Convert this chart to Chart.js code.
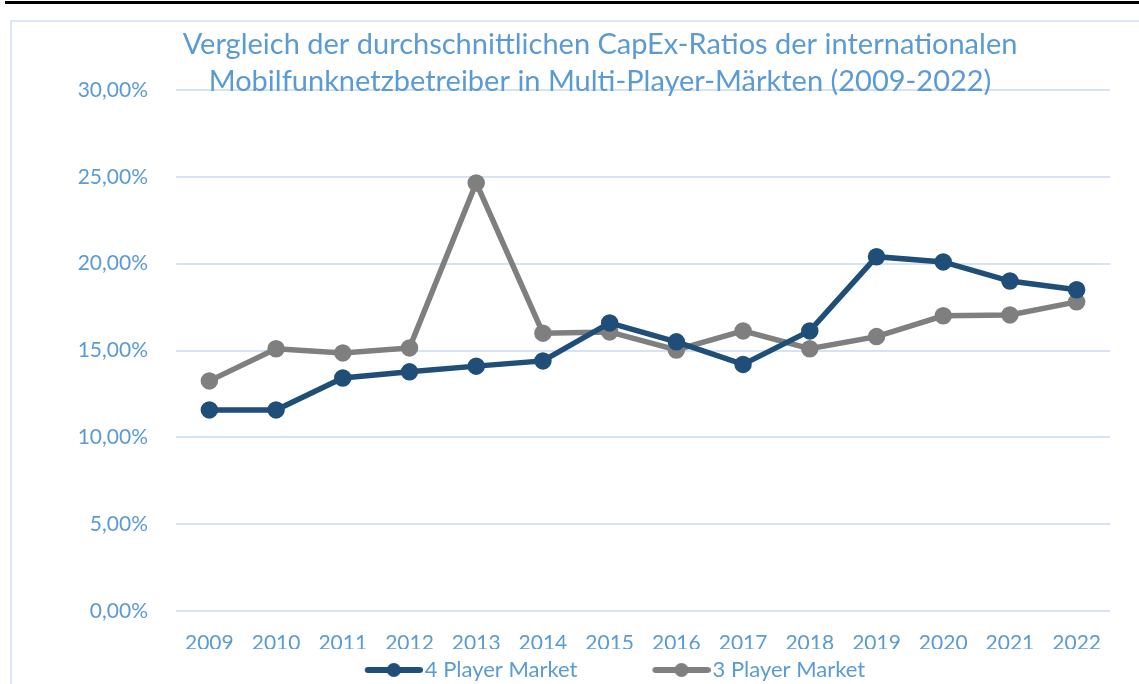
<!DOCTYPE html>
<html>
<head>
<meta charset="utf-8">
<script src="https://cdn.jsdelivr.net/npm/chart.js@4.4.0/dist/chart.umd.min.js"></script>
<style>
    html, body { margin: 0; padding: 0; background: #fff; overflow: hidden; width: 1139px; height: 684px; }
    #topRule { position: absolute; left: 5px; right: 0; top: 1px; height: 3px; background: #000; }
    #frame { position: absolute; left: 10px; top: 20px; width: 1300px; height: 700px; border: 2px solid #dce7f5; }
    #wrap { position: absolute; left: 10px; top: 20px; width: 1160px; height: 671px; }
</style>
</head>
<body>
<div id="topRule"></div>
<div id="frame"></div>
<div id="wrap"><canvas id="capexChart"></canvas></div>
<script>
const years = ['2009', '2010', '2011', '2012', '2013', '2014', '2015', '2016', '2017', '2018', '2019', '2020', '2021', '2022'];
const fourPlayer = [11.58, 11.58, 13.42, 13.77, 14.10, 14.40, 16.59, 15.50, 14.20, 16.13, 20.40, 20.10, 19.00, 18.50];
const threePlayer = [13.25, 15.10, 14.86, 15.15, 24.65, 16.00, 16.07, 15.03, 16.13, 15.10, 15.80, 17.00, 17.05, 17.80];
const seriesNames = ['4 Player Market', '3 Player Market'];
const titleLines = [
    'Vergleich der durchschnittlichen CapEx-Ratios der internationalen',
    'Mobilfunknetzbetreiber in Multi-Player-Märkten (2009-2022)'
];

const textBlue = '#5b9bd5';
const darkBlue = '#1f4e79';
const grey = '#7f7f7f';
const FONT = 'Lato';

// legend symbol: line with a dot, right-aligned in a wider transparent image
function makeSymbol(color) {
    const c = document.createElement('canvas');
    c.width = 132;
    c.height = 18;
    const g = c.getContext('2d');
    g.strokeStyle = color;
    g.lineWidth = 6;
    g.lineCap = 'round';
    g.beginPath();
    g.moveTo(c.width - 55, 9);
    g.lineTo(c.width - 3, 9);
    g.stroke();
    g.fillStyle = color;
    g.beginPath();
    g.arc(c.width - 29, 9, 7, 0, Math.PI * 2);
    g.fill();
    return c;
}
const symbols = [makeSymbol(darkBlue), makeSymbol(grey)];

const titlePlugin = {
    id: 'twoLineTitle',
    afterDraw(chart) {
        const ctx = chart.ctx;
        ctx.save();
        ctx.font = '29px ' + FONT;
        ctx.fillStyle = textBlue;
        ctx.textAlign = 'center';
        ctx.textBaseline = 'middle';
        titleLines.forEach((line, i) => ctx.fillText(line, 590, 25 + i * 37));
        ctx.restore();
    }
};

const ctx = document.getElementById('capexChart').getContext('2d');
new Chart(ctx, {
    type: 'line',
    data: {
        labels: years,
        datasets: [{
            label: seriesNames[0],
            data: fourPlayer,
            borderColor: darkBlue,
            backgroundColor: darkBlue,
            borderWidth: 5.5,
            pointRadius: 6,
            pointHoverRadius: 6,
            tension: 0
        }, {
            label: seriesNames[1],
            data: threePlayer,
            borderColor: grey,
            backgroundColor: grey,
            borderWidth: 5.5,
            pointRadius: 6,
            pointHoverRadius: 6,
            tension: 0
        }]
    },
    options: {
        responsive: true,
        maintainAspectRatio: false,
        animation: false,
        layout: {
            padding: { left: 45, right: 60, top: 70, bottom: 0 }
        },
        scales: {
            x: {
                offset: true,
                grid: { display: false, drawTicks: false },
                border: { display: false },
                ticks: {
                    color: textBlue,
                    font: { family: FONT, size: 21 },
                    padding: 20,
                    maxRotation: 0
                },
                afterFit: s => { s.height = 38; }
            },
            y: {
                min: 0,
                max: 30,
                grid: { color: '#d5e3f3', lineWidth: 2, drawTicks: false },
                border: { display: false },
                ticks: {
                    stepSize: 5,
                    color: textBlue,
                    font: { family: FONT, size: 21 },
                    padding: 28,
                    callback: v => v.toFixed(2).replace('.', ',') + '%'
                },
                afterFit: s => { s.width = 121; }
            }
        },
        plugins: {
            legend: {
                position: 'bottom',
                labels: {
                    usePointStyle: true,
                    pointStyleWidth: 114,
                    padding: 10,
                    color: textBlue,
                    font: { family: FONT, size: 22 },
                    generateLabels: chart => Chart.defaults.plugins.legend.labels.generateLabels(chart)
                        .map((item, i) => ({ ...item, pointStyle: symbols[i] }))
                }
            },
            title: { display: false },
            tooltip: { enabled: false }
        }
    },
    plugins: [titlePlugin]
});
</script>
</body>
</html>
